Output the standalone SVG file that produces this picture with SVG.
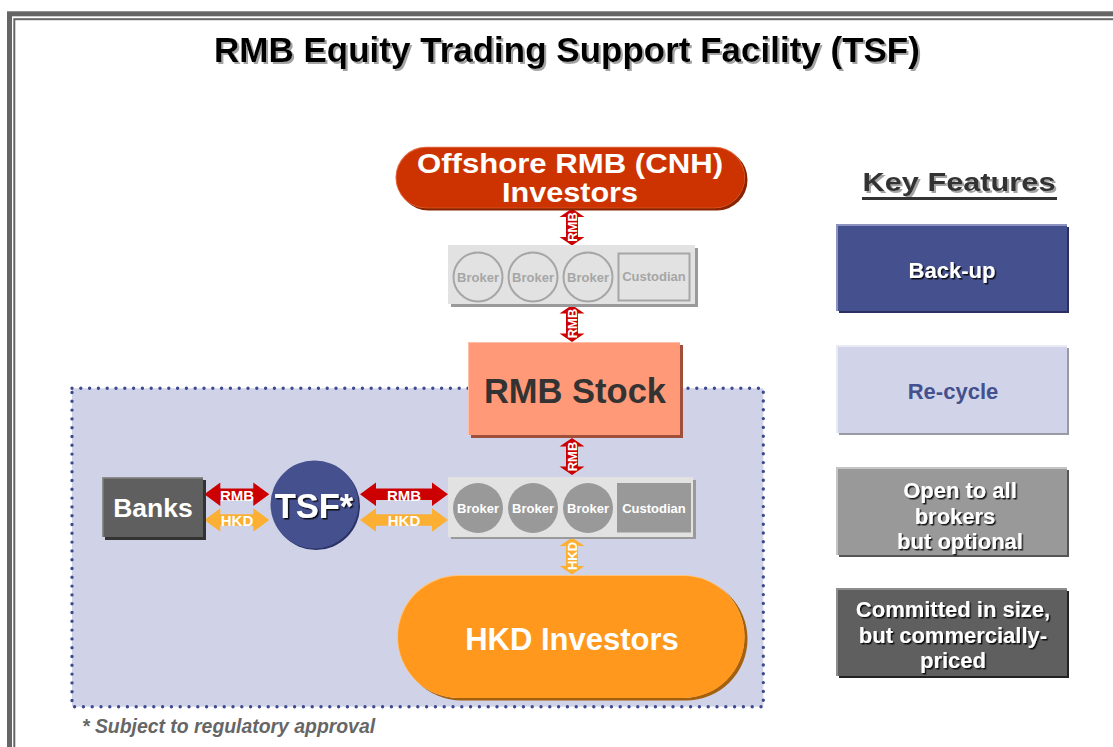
<svg xmlns="http://www.w3.org/2000/svg" width="1113" height="747" viewBox="0 0 1113 747">
  <style>
    text { font-family: "Liberation Sans", Arial, sans-serif; font-weight: bold; }
    .wt { fill: #ffffff; }
    .mid { text-anchor: middle; }
    .frame { fill: none; stroke: #666666; }
    .brk-outline { fill: none; stroke: #A6A6A6; stroke-width: 2; }
    .brk-outline-t { fill: #A6A6A6; font-size: 13px; text-anchor: middle; }
    .brk-fill { fill: #999999; }
    .brk-fill-t { fill: #ffffff; font-size: 13px; text-anchor: middle; }
    .lbl { fill: #ffffff; font-size: 15px; text-anchor: middle; }
    .vlbl { fill: #ffffff; font-size: 13px; text-anchor: middle; }
    .rmb { fill: #CC0000; }
    .hkd { fill: #FBB034; }
    .key { font-size: 22px; text-anchor: middle; }
  </style>
  <defs>
    <filter id="shDark" x="-10%" y="-20%" width="130%" height="150%">
      <feDropShadow dx="1.5" dy="1.5" stdDeviation="0.4" flood-color="#000000" flood-opacity="0.85"/>
    </filter>
    <filter id="shGray" x="-10%" y="-20%" width="130%" height="150%">
      <feDropShadow dx="2" dy="2" stdDeviation="0.6" flood-color="#999999" flood-opacity="0.9"/>
    </filter>
    <!-- horizontal double-headed arrows, drawn from x=0 and centred on y=0 -->
    <path id="hArrow" d="M0 0 L16 -11.7 L16 -5.8 L72 -5.8 L72 -11.7 L88 0 L72 11.7 L72 5.8 L16 5.8 L16 11.7 Z"/>
    <path id="hArrowS" d="M0 0 L16 -11.7 L16 -5.8 L49 -5.8 L49 -11.7 L65 0 L49 11.7 L49 5.8 L16 5.8 L16 11.7 Z"/>
    <!-- vertical double-headed arrow centred on the origin -->
    <path id="vArrow" d="M0 -18.5 L12.5 -10 L6 -10 L6 10 L12.5 10 L0 18.5 L-12.5 10 L-6 10 L-6 -10 L-12.5 -10 Z"/>
  </defs>

  <!-- page frame -->
  <rect x="0" y="0" width="1113" height="747" fill="#ffffff"/>
  <rect class="frame" x="9.5" y="13.8" width="1200" height="1000" stroke-width="5"/>
  <rect class="frame" x="14.3" y="19.2" width="1200" height="1000" stroke-width="2"/>

  <!-- title -->
  <text x="567" y="62" class="mid" font-size="35" fill="#000000" filter="url(#shGray)">RMB Equity Trading Support Facility (TSF)</text>

  <!-- onshore-accessible zone -->
  <g id="zone">
    <rect x="72" y="388.3" width="691.3" height="318.4" fill="#D0D3E8"/>
    <rect x="72" y="388.3" width="691.3" height="318.4" fill="none" stroke="#3D4A8E" stroke-width="3.4" stroke-linecap="round" stroke-dasharray="0 8.8"/>
  </g>

  <!-- connectors -->
  <g id="connectors">
    <!-- CNH investors <-> upper brokers -->
    <g transform="translate(572 227)">
      <use href="#vArrow" class="rmb"/>
      <text class="vlbl" transform="rotate(-90)" y="4.6">RMB</text>
    </g>
    <!-- upper brokers <-> RMB stock -->
    <g transform="translate(572 323.5)">
      <use href="#vArrow" class="rmb"/>
      <text class="vlbl" transform="rotate(-90)" y="4.6">RMB</text>
    </g>
    <!-- RMB stock <-> lower brokers -->
    <g transform="translate(572 456.5)">
      <use href="#vArrow" class="rmb"/>
      <text class="vlbl" transform="rotate(-90)" y="4.6">RMB</text>
    </g>
    <!-- lower brokers <-> HKD investors -->
    <g transform="translate(572 556)">
      <use href="#vArrow" class="hkd"/>
      <text class="vlbl" transform="rotate(-90)" y="4.6">HKD</text>
    </g>
    <!-- banks <-> TSF -->
    <use href="#hArrowS" class="rmb" x="204.3" y="494.3"/>
    <text class="lbl" x="237" y="500.8">RMB</text>
    <use href="#hArrowS" class="hkd" x="204.3" y="520"/>
    <text class="lbl" x="237" y="525.8">HKD</text>
    <!-- TSF <-> lower brokers -->
    <use href="#hArrow" class="rmb" x="360" y="494.3"/>
    <text class="lbl" x="404" y="500.8">RMB</text>
    <use href="#hArrow" class="hkd" x="360" y="520"/>
    <text class="lbl" x="404" y="525.8">HKD</text>
  </g>

  <!-- offshore RMB investors -->
  <g id="cnh-investors">
    <rect x="398" y="149" width="349.5" height="61.5" rx="30.5" fill="#8A2400"/>
    <rect x="395.5" y="146.7" width="349.5" height="61.5" rx="30.5" fill="#E46A40"/>
    <rect x="396.5" y="147.7" width="348" height="60" rx="30" fill="#CC3300"/>
    <text class="wt mid" x="570" y="173" font-size="28" textLength="306" lengthAdjust="spacingAndGlyphs">Offshore RMB (CNH)</text>
    <text class="wt mid" x="570" y="201.5" font-size="28" textLength="136" lengthAdjust="spacingAndGlyphs">Investors</text>
  </g>

  <!-- offshore brokers / custodian -->
  <g id="brokers-cnh">
    <rect x="451" y="248" width="247" height="59" fill="#9A9A9A"/>
    <rect x="448" y="245" width="247" height="59" fill="#E2E2E2"/>
    <circle class="brk-outline" cx="478" cy="277" r="24.5"/>
    <circle class="brk-outline" cx="533" cy="277" r="24.5"/>
    <circle class="brk-outline" cx="588" cy="277" r="24.5"/>
    <rect class="brk-outline" x="618.5" y="253.5" width="71" height="47" stroke-width="2.5"/>
    <text class="brk-outline-t" x="478" y="282">Broker</text>
    <text class="brk-outline-t" x="533" y="282">Broker</text>
    <text class="brk-outline-t" x="588" y="282">Broker</text>
    <text class="brk-outline-t" x="654" y="281">Custodian</text>
  </g>

  <!-- RMB stock -->
  <g id="rmb-stock">
    <rect x="471" y="345" width="212" height="93" fill="#A0503A"/>
    <rect x="468" y="342" width="212" height="93" fill="#FFBFA8"/>
    <rect x="469" y="343" width="211" height="92" fill="#FF9977"/>
    <text class="mid" x="575" y="402.7" font-size="34.5" fill="#333333">RMB Stock</text>
  </g>

  <!-- onshore brokers / custodian -->
  <g id="brokers-hk">
    <rect x="451" y="480" width="245" height="59" fill="#9A9A9A"/>
    <rect x="448" y="477" width="245" height="60" fill="#E2E2E2"/>
    <circle class="brk-fill" cx="478" cy="508" r="25"/>
    <circle class="brk-fill" cx="533" cy="508" r="25"/>
    <circle class="brk-fill" cx="588" cy="508" r="25"/>
    <rect class="brk-fill" x="617" y="483" width="74" height="49.5"/>
    <text class="brk-fill-t" x="478" y="513">Broker</text>
    <text class="brk-fill-t" x="533" y="513">Broker</text>
    <text class="brk-fill-t" x="588" y="513">Broker</text>
    <text class="brk-fill-t" x="654" y="513">Custodian</text>
  </g>

  <!-- HKD investors -->
  <g id="hkd-investors">
    <rect x="400" y="577.5" width="347.5" height="123" rx="61.5" fill="#A3600E"/>
    <rect x="397" y="575" width="347.5" height="123" rx="61.5" fill="#FFC47E"/>
    <rect x="398" y="576" width="346.5" height="122" rx="61" fill="#FF981C"/>
    <text class="wt mid" x="572" y="650" font-size="31">HKD Investors</text>
  </g>

  <!-- banks -->
  <g id="banks">
    <rect x="105" y="480" width="101" height="60" fill="#333333"/>
    <rect x="102" y="477" width="101" height="60" fill="#8E8E8E"/>
    <rect x="103.5" y="478.5" width="99.5" height="58.5" fill="#5F5F5F"/>
    <text class="wt mid" x="153" y="517" font-size="26.5">Banks</text>
  </g>

  <!-- trading support facility -->
  <g id="tsf">
    <circle cx="316" cy="506" r="44" fill="#2B3264"/>
    <circle cx="314.5" cy="504.5" r="44" fill="#45508E"/>
    <text class="wt mid" x="314" y="518" font-size="34.5" filter="url(#shDark)">TSF*</text>
  </g>

  <!-- key features legend -->
  <g id="key-title">
    <text class="mid" x="959" y="190.7" font-size="26" fill="#333333" textLength="193" lengthAdjust="spacingAndGlyphs" filter="url(#shGray)">Key Features</text>
    <rect x="862" y="197" width="195" height="3" fill="#333333"/>
  </g>

  <g id="key-backup">
    <rect x="839" y="227" width="230" height="86" fill="#2B3060"/>
    <rect x="836" y="224" width="231" height="87" fill="#8C93BE"/>
    <rect x="838" y="226" width="229" height="85" fill="#45508E"/>
    <text class="wt key" x="952" y="278" font-size="23" filter="url(#shDark)">Back-up</text>
  </g>

  <g id="key-recycle">
    <rect x="839" y="348" width="230" height="87" fill="#9A9AA4"/>
    <rect x="836" y="345" width="231" height="88" fill="#E8EAF4"/>
    <rect x="838" y="347" width="229" height="86" fill="#D1D4E8"/>
    <text class="key" x="953" y="399" font-size="23" fill="#45508E">Re-cycle</text>
  </g>

  <g id="key-open">
    <rect x="839" y="470" width="230" height="87" fill="#555555"/>
    <rect x="836" y="467" width="231" height="88" fill="#C4C4C4"/>
    <rect x="838" y="469" width="229" height="86" fill="#999999"/>
    <text class="wt key" x="960" y="498" filter="url(#shDark)">Open to all</text>
    <text class="wt key" x="955" y="523.5" filter="url(#shDark)">brokers</text>
    <text class="wt key" x="960" y="549" filter="url(#shDark)">but optional</text>
  </g>

  <g id="key-committed">
    <rect x="839" y="591" width="230" height="87" fill="#222222"/>
    <rect x="836" y="588" width="231" height="88" fill="#8E8E8E"/>
    <rect x="838" y="590" width="229" height="86" fill="#5F5F5F"/>
    <text class="wt key" x="953" y="617" filter="url(#shDark)">Committed in size,</text>
    <text class="wt key" x="953" y="642.5" filter="url(#shDark)">but commercially-</text>
    <text class="wt key" x="953" y="668" filter="url(#shDark)">priced</text>
  </g>

  <!-- footnote -->
  <text x="82" y="733" font-size="19.4" font-style="italic" fill="#666666">* Subject to regulatory approval</text>
</svg>
